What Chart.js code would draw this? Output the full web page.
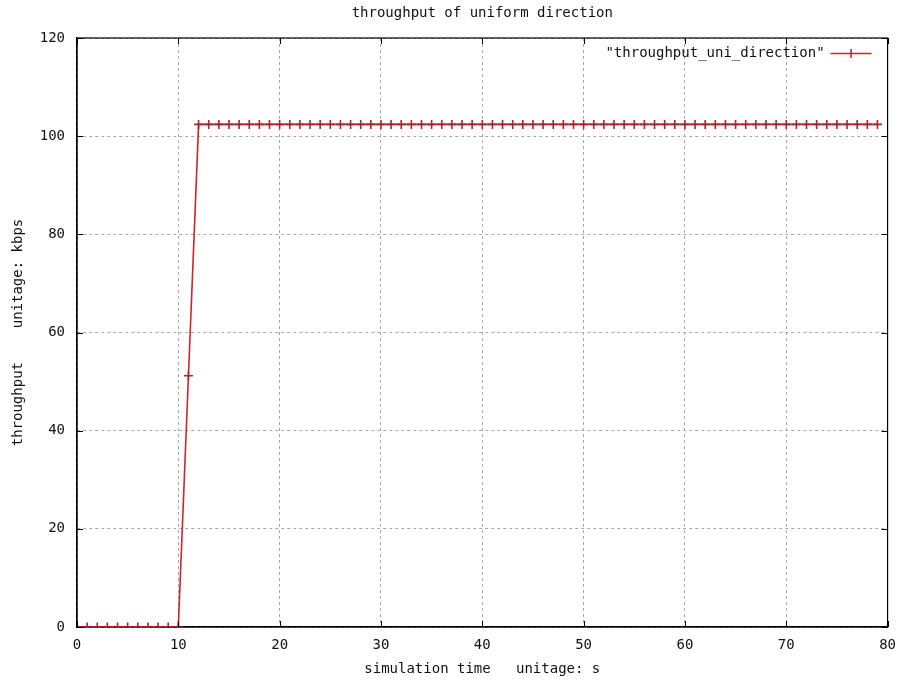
<!DOCTYPE html>
<html>
<head>
<meta charset="utf-8">
<title>throughput of uniform direction</title>
<script src="https://cdn.jsdelivr.net/npm/chart.js@4/dist/chart.umd.min.js"></script>
<style>
  html, body { margin: 0; padding: 0; background: #fff; }
  #wrap { width: 906px; height: 687px; position: relative; }
</style>
</head>
<body>
<div id="wrap"><canvas id="tputChart"></canvas></div>
<script>
// simulation time in seconds, one sample per second
const times = [
  0, 1, 2, 3, 4, 5, 6, 7, 8, 9,
  10, 11, 12, 13, 14, 15, 16, 17, 18, 19,
  20, 21, 22, 23, 24, 25, 26, 27, 28, 29,
  30, 31, 32, 33, 34, 35, 36, 37, 38, 39,
  40, 41, 42, 43, 44, 45, 46, 47, 48, 49,
  50, 51, 52, 53, 54, 55, 56, 57, 58, 59,
  60, 61, 62, 63, 64, 65, 66, 67, 68, 69,
  70, 71, 72, 73, 74, 75, 76, 77, 78, 79
];
// throughput in kbps
const throughput = [
  0, 0, 0, 0, 0, 0, 0, 0, 0, 0,
  0, 51.2, 102.4, 102.4, 102.4, 102.4, 102.4, 102.4, 102.4, 102.4,
  102.4, 102.4, 102.4, 102.4, 102.4, 102.4, 102.4, 102.4, 102.4, 102.4,
  102.4, 102.4, 102.4, 102.4, 102.4, 102.4, 102.4, 102.4, 102.4, 102.4,
  102.4, 102.4, 102.4, 102.4, 102.4, 102.4, 102.4, 102.4, 102.4, 102.4,
  102.4, 102.4, 102.4, 102.4, 102.4, 102.4, 102.4, 102.4, 102.4, 102.4,
  102.4, 102.4, 102.4, 102.4, 102.4, 102.4, 102.4, 102.4, 102.4, 102.4,
  102.4, 102.4, 102.4, 102.4, 102.4, 102.4, 102.4, 102.4, 102.4, 102.4
];
const xTicks = [0, 10, 20, 30, 40, 50, 60, 70, 80];
const yTicks = [0, 20, 40, 60, 80, 100, 120];

const seriesLabel = '"throughput_uni_direction"';
const chartTitle = 'throughput of uniform direction';
const xTitle = 'simulation time   unitage: s';
const yTitle = 'throughput    unitage: kbps';

const FONT = 'DejaVu Sans Mono';
const lineColor = '#d0232a';
const markColor = '#a8252a';

// gnuplot-ish extras: title, inward border ticks, legend inside the plot
const gnuplotBits = {
  id: 'gnuplotBits',
  afterDraw(chart) {
    const { ctx, chartArea: a, scales } = chart;
    ctx.save();

    // title
    ctx.font = '14px "' + FONT + '"';
    ctx.fillStyle = '#111';
    ctx.textAlign = 'center';
    ctx.textBaseline = 'middle';
    ctx.fillText(chartTitle, (a.left + a.right) / 2, 13);

    // inward tick marks on all four sides
    ctx.strokeStyle = '#000';
    ctx.lineWidth = 1;
    ctx.beginPath();
    xTicks.forEach(v => {
      const x = Math.round(scales.x.getPixelForValue(v)) + 0.5;
      ctx.moveTo(x, a.bottom); ctx.lineTo(x, a.bottom - 6);
      ctx.moveTo(x, a.top); ctx.lineTo(x, a.top + 6);
    });
    yTicks.forEach(v => {
      const y = Math.round(scales.y.getPixelForValue(v)) + 0.5;
      ctx.moveTo(a.left, y); ctx.lineTo(a.left + 6, y);
      ctx.moveTo(a.right, y); ctx.lineTo(a.right - 6, y);
    });
    ctx.stroke();

    // legend
    const ly = a.top + 15;
    ctx.textAlign = 'right';
    ctx.fillStyle = '#111';
    ctx.fillText(chart.data.datasets[0].label, a.right - 63, ly);
    ctx.strokeStyle = lineColor;
    ctx.lineWidth = 1.5;
    ctx.beginPath();
    ctx.moveTo(a.right - 57, ly + 0.5);
    ctx.lineTo(a.right - 16, ly + 0.5);
    ctx.stroke();
    ctx.strokeStyle = markColor;
    ctx.beginPath();
    ctx.moveTo(a.right - 36.5, ly - 4);
    ctx.lineTo(a.right - 36.5, ly + 5);
    ctx.stroke();

    ctx.restore();
  }
};

const ctx = document.getElementById('tputChart').getContext('2d');

new Chart(ctx, {
  type: 'line',
  data: {
    datasets: [{
      label: seriesLabel,
      data: times.map((t, i) => ({ x: t, y: throughput[i] })),
      borderColor: lineColor,
      borderWidth: 1.6,
      pointStyle: 'cross',
      pointRadius: 4.5,
      pointBorderWidth: 1.6,
      pointBorderColor: markColor,
      pointHoverRadius: 4.5,
      tension: 0,
      fill: false
    }]
  },
  options: {
    responsive: true,
    maintainAspectRatio: false,
    animation: false,
    events: [],
    layout: {
      padding: { top: 38, right: 15, left: 0, bottom: 0 }
    },
    plugins: {
      legend: { display: false },
      tooltip: { enabled: false },
      title: { display: false }
    },
    scales: {
      x: {
        type: 'linear',
        min: 0,
        max: 80,
        afterFit: scale => { scale.height = 60; },
        afterBuildTicks: scale => { scale.ticks = xTicks.map(v => ({ value: v })); },
        ticks: {
          color: '#111',
          font: { family: FONT, size: 14 },
          padding: 10,
          maxRotation: 0
        },
        grid: {
          color: '#a8a8a8',
          drawTicks: false
        },
        border: { display: true, color: '#000', width: 1.2, dash: [3, 3] },
        title: {
          display: true,
          text: xTitle,
          color: '#111',
          font: { family: FONT, size: 14 },
          padding: { top: 9, bottom: 9 }
        }
      },
      y: {
        min: 0,
        max: 120,
        afterFit: scale => { scale.width = 77; },
        afterBuildTicks: scale => { scale.ticks = yTicks.map(v => ({ value: v })); },
        ticks: {
          color: '#111',
          font: { family: FONT, size: 14 },
          padding: 12
        },
        grid: {
          color: '#a8a8a8',
          drawTicks: false
        },
        border: { display: true, color: '#000', width: 1.2, dash: [3, 3] },
        title: {
          display: true,
          text: yTitle,
          color: '#111',
          font: { family: FONT, size: 14 },
          padding: { top: 10, bottom: 10 }
        }
      }
    }
  },
  plugins: [
    gnuplotBits,
    {
      // solid closed frame around the plot, over the dashed grid
      id: 'solidFrame',
      beforeDatasetsDraw(chart) {
        const { ctx, chartArea: a } = chart;
        ctx.save();
        ctx.strokeStyle = '#000';
        ctx.lineWidth = 1.2;
        ctx.strokeRect(a.left, a.top, a.right - a.left, a.bottom - a.top);
        ctx.restore();
      }
    }
  ]
});
</script>
</body>
</html>
